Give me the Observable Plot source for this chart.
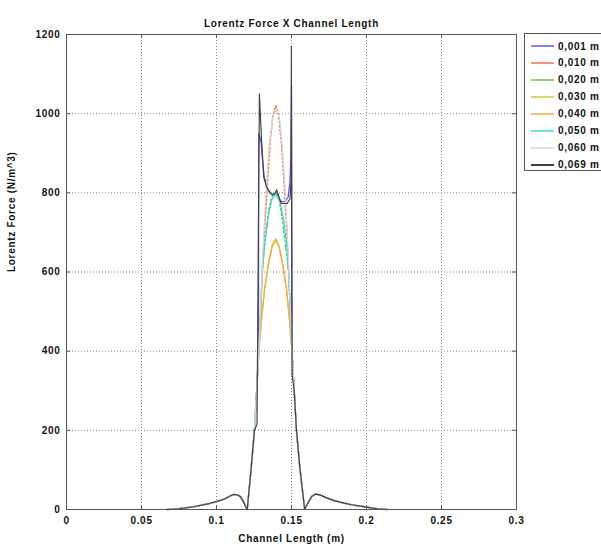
<!DOCTYPE html>
<html>
<head>
<meta charset="utf-8">
<script src="https://cdn.jsdelivr.net/npm/d3@7"></script>
<script src="https://cdn.jsdelivr.net/npm/@observablehq/plot@0.6"></script>
<style>
  body { margin: 0; background: #fff; }
  #wrap { position: relative; width: 601px; height: 548px; overflow: hidden; font-family: "Liberation Sans", Arial, sans-serif; }
  #wrap svg text { font-weight: bold; letter-spacing: 0.7px; }
  #legend { position: absolute; left: 524px; top: 33px; width: 90px; height: 138px; border: 1px solid #555; background: #fff; box-sizing: border-box; }
  .row { position: absolute; left: 0; height: 14px; display: flex; align-items: center; }
  .row span { font-size: 10px; font-weight: bold; letter-spacing: 0.7px; color: #111; margin-left: 3px; }
</style>
</head>
<body>
<div id="wrap"></div>
<script>
const title = "Lorentz Force X Channel Length";
const xLabel = "Channel Length (m)";
const yLabel = "Lorentz Force (N/m^3)";
const xTicks = [0, 0.05, 0.1, 0.15, 0.2, 0.25, 0.3];
const yTicks = [0, 200, 400, 600, 800, 1000, 1200];
const seriesNames = ["0,001 m", "0,010 m", "0,020 m", "0,030 m", "0,040 m", "0,050 m", "0,060 m", "0,069 m"];
const seriesColors = ["#5a5ae6", "#f2704c", "#6cbf4a", "#c9c93a", "#f8ab3c", "#3fd8cf", "#d6d6d6", "#404040"];

// shared tails (all curves coincide there)
const tailLeftX = [0.067, 0.075, 0.085, 0.095, 0.1, 0.105, 0.109, 0.1115, 0.114, 0.116, 0.118, 0.1195];
const tailLeftY = [0, 2, 7, 15, 20, 26, 34, 38, 37, 32, 20, 7];
const tailRightX = [0.1598, 0.1615, 0.1635, 0.166, 0.169, 0.173, 0.178, 0.183, 0.19, 0.2, 0.207, 0.214];
const tailRightY = [8, 20, 33, 39, 37, 30, 23, 18, 12, 6, 2, 0];

// central parts
const x001 = [0.1205, 0.123, 0.1253, 0.1268, 0.1280, 0.1281, 0.1290, 0.1298, 0.1305, 0.1318, 0.1338, 0.1360, 0.1380, 0.1400, 0.1415, 0.1434, 0.1460, 0.1478, 0.1490, 0.1496, 0.1500, 0.1503, 0.1518, 0.1533, 0.1557, 0.1588];
const y001 = [0, 100, 200, 300, 400, 950, 940, 925, 890, 840, 812, 798, 795, 800, 785, 778, 778, 790, 830, 900, 1070, 400, 300, 200, 100, 0];

const x010 = [0.1205, 0.123, 0.1253, 0.1268, 0.1282, 0.1294, 0.1305, 0.1320, 0.1336, 0.1356, 0.1376, 0.1395, 0.1414, 0.1434, 0.1454, 0.1469, 0.1481, 0.1492, 0.1503, 0.1518, 0.1533, 0.1557, 0.1588];
const y010 = [0, 100, 200, 300, 400, 500, 600, 700, 800, 920, 995, 1020, 995, 920, 800, 700, 600, 500, 400, 300, 200, 100, 0];

const x020 = [0.1205, 0.123, 0.1253, 0.1268, 0.1282, 0.1294, 0.1306, 0.1326, 0.1350, 0.1373, 0.1395, 0.1417, 0.1440, 0.1461, 0.1481, 0.1492, 0.1503, 0.1518, 0.1533, 0.1557, 0.1588];
const y020 = [0, 100, 200, 300, 400, 500, 600, 690, 760, 795, 800, 785, 730, 665, 600, 500, 400, 300, 200, 100, 0];

const x030 = [0.1205, 0.123, 0.1253, 0.1268, 0.1282, 0.1300, 0.1322, 0.1346, 0.1372, 0.1395, 0.1418, 0.1443, 0.1467, 0.1486, 0.1503, 0.1518, 0.1533, 0.1557, 0.1588];
const y030 = [0, 100, 200, 300, 400, 482, 562, 622, 668, 684, 665, 618, 557, 482, 400, 300, 200, 100, 0];

const x040 = [0.1205, 0.123, 0.1253, 0.1268, 0.1282, 0.1300, 0.1322, 0.1346, 0.1372, 0.1395, 0.1418, 0.1443, 0.1467, 0.1486, 0.1503, 0.1518, 0.1533, 0.1557, 0.1588];
const y040 = [0, 100, 200, 300, 400, 480, 560, 620, 665, 680, 662, 615, 555, 480, 400, 300, 200, 100, 0];

const x050 = [0.1205, 0.123, 0.1253, 0.1268, 0.1282, 0.1294, 0.1305, 0.1324, 0.1345, 0.1370, 0.1395, 0.1420, 0.1445, 0.1465, 0.1481, 0.1492, 0.1503, 0.1518, 0.1533, 0.1557, 0.1588];
const y050 = [0, 100, 200, 300, 400, 500, 600, 680, 740, 785, 795, 782, 738, 678, 600, 500, 400, 300, 200, 100, 0];

const x060 = [0.1205, 0.123, 0.1253, 0.1268, 0.1282, 0.1293, 0.1303, 0.1316, 0.1330, 0.1351, 0.1374, 0.1398, 0.1420, 0.1440, 0.1458, 0.1472, 0.1483, 0.1493, 0.1503, 0.1518, 0.1533, 0.1557, 0.1588];
const y060 = [0, 100, 200, 300, 400, 500, 600, 700, 800, 920, 990, 1012, 990, 910, 800, 700, 600, 500, 400, 300, 200, 100, 0];

const x069 = [0.1205, 0.123, 0.1253, 0.1270, 0.1286, 0.1298, 0.1315, 0.1333, 0.1347, 0.1375, 0.1392, 0.1400, 0.1412, 0.1431, 0.1471, 0.1490, 0.1497, 0.1499, 0.1504, 0.1518, 0.1533, 0.1557, 0.1588];
const y069 = [0, 100, 200, 215, 1050, 950, 840, 815, 806, 795, 800, 808, 795, 773, 773, 785, 830, 1170, 340, 300, 200, 100, 0];

const xsAll = [x001, x010, x020, x030, x040, x050, x060, x069];
const ysAll = [y001, y010, y020, y030, y040, y050, y060, y069];
const dashes = [null, "1.5,2.5", "2,2.5", null, null, null, null, null];
const widths = [1.3, 1.5, 1.4, 1.2, 1.3, 1.3, 1.3, 1.15];

function buildRows(i) {
  const xs = [...tailLeftX, ...xsAll[i], ...tailRightX];
  const ys = [...tailLeftY, ...ysAll[i], ...tailRightY];
  return xs.map((x, j) => ({x, y: ys[j], s: seriesNames[i]}));
}

const lineMarks = seriesNames.map((name, i) =>
  Plot.line(buildRows(i), {x: "x", y: "y", stroke: seriesColors[i], strokeWidth: widths[i], strokeDasharray: dashes[i]})
);

const fw = 450, fh = 475, tk = 4;

const chart = Plot.plot({
  width: 601,
  height: 548,
  marginLeft: 66,
  marginRight: 85,
  marginTop: 34,
  marginBottom: 39,
  style: {fontFamily: "'Liberation Sans', Arial, sans-serif", fontSize: "10px", color: "#111", background: "#fff"},
  x: {domain: [0, 0.3]},
  y: {domain: [0, 1200]},
  marks: [
    Plot.gridX(xTicks, {stroke: "#8a8a8a", strokeOpacity: 1, strokeDasharray: "1,2"}),
    Plot.gridY(yTicks, {stroke: "#8a8a8a", strokeOpacity: 1, strokeDasharray: "1,2"}),
    Plot.ruleX(xTicks, {x: d => d, insetTop: fh - tk, stroke: "#555"}),
    Plot.ruleX(xTicks, {x: d => d, insetBottom: fh - tk, stroke: "#555"}),
    Plot.ruleY(yTicks, {y: d => d, insetRight: fw - tk, stroke: "#555"}),
    Plot.ruleY(yTicks, {y: d => d, insetLeft: fw - tk, stroke: "#555"}),
    ...lineMarks,
    Plot.frame({stroke: "#555"}),
    Plot.axisX(xTicks, {tickSize: 0, tickPadding: 7, tickFormat: d => String(d), label: null, fill: "#111"}),
    Plot.axisY(yTicks, {tickSize: 0, tickPadding: 6, tickFormat: d => String(d), label: null, fill: "#111"}),
    Plot.text([title], {text: d => d, frameAnchor: "top", dy: -15, fontSize: 10, fontWeight: "bold", fill: "#111"}),
    Plot.text([xLabel], {text: d => d, frameAnchor: "bottom", dy: 32, fontSize: 10, fontWeight: "bold", fill: "#111"}),
    Plot.text([yLabel], {text: d => d, frameAnchor: "left", dx: -55, rotate: -90, fontSize: 10, fontWeight: "bold", fill: "#111"})
  ]
});

const wrap = document.getElementById("wrap");
wrap.appendChild(chart);

const legend = document.createElement("div");
legend.id = "legend";
seriesNames.forEach((name, i) => {
  const row = document.createElement("div");
  row.className = "row";
  row.style.top = (5 + i * 16.95) + "px";
  row.innerHTML = `<svg width="30" height="14"><line x1="6" x2="29" y1="7" y2="7" stroke="${seriesColors[i]}" stroke-width="${i === 7 ? 2 : 1.5}"/></svg><span>${name}</span>`;
  legend.appendChild(row);
});
wrap.appendChild(legend);
</script>
</body>
</html>
